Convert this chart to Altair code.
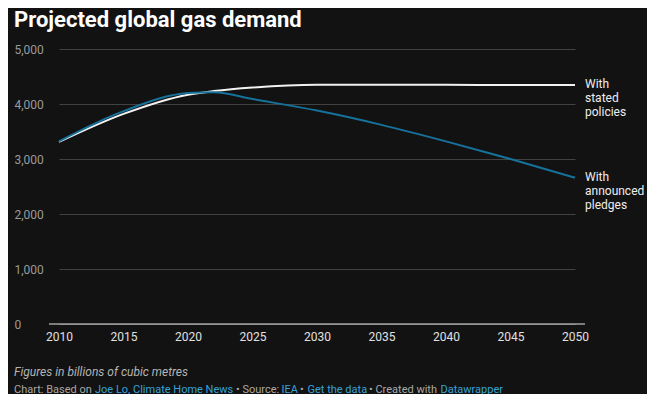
import altair as alt
import pandas as pd

years = [2010, 2015, 2020, 2022, 2025, 2030, 2035, 2040, 2045, 2050]
stated = [3310, 3820, 4170, 4235, 4300, 4350, 4350, 4350, 4345, 4345]
pledges = [3320, 3870, 4200, 4215, 4090, 3880, 3620, 3320, 3000, 2660]

series_names = ["With stated policies", "With announced pledges"]
series_labels = ["With\nstated\npolicies", "With\nannounced\npledges"]
series_colors = ["#f2f2f2", "#16719b"]

x_ticks = [2010, 2015, 2020, 2025, 2030, 2035, 2040, 2045, 2050]
y_ticks = [0, 1000, 2000, 3000, 4000, 5000]

title_text = "Projected global gas demand"
note_text = "Figures in billions of cubic metres"
footer_parts = ["Chart: Based on", "Joe Lo, Climate Home News", "\u2022 Source:", "IEA",
                "\u2022", "Get the data", "\u2022 Created with", "Datawrapper"]
footer_is_link = [False, True, False, True, False, True, False, True]
footer_x = [-35, 46, 187, 232.5, 251, 258.5, 320, 391.5]

rows = []
for y, a, b in zip(years, stated, pledges):
    rows.append({"year": y, "value": a, "series": series_names[0]})
    rows.append({"year": y, "value": b, "series": series_names[1]})
df = pd.DataFrame(rows)

label_df = pd.DataFrame({
    "year": [years[-1], years[-1]],
    "value": [stated[-1], pledges[-1]],
    "label": series_labels,
})

W, H = 536, 275

xscale = alt.Scale(domain=[2010, 2050], range=[10, W - 10], nice=False, zero=False)
yscale = alt.Scale(domain=[0, 5000], nice=False)

base = alt.Chart(df)

lines = base.mark_line(strokeWidth=2, interpolate="monotone").encode(
    x=alt.X("year:Q", scale=xscale,
            axis=alt.Axis(values=x_ticks, format="d", title=None, grid=False, domain=False,
                          ticks=False, labelColor="#e0e0e0", labelFontSize=12,
                          labelPadding=7, labelFont="Roboto", labelFlush=False)),
    y=alt.Y("value:Q", scale=yscale,
            axis=alt.Axis(values=y_ticks, format=",.0f", title=None, grid=True, gridColor="#424242",
                          gridWidth=1, domain=False, ticks=False, labelAlign="left",
                          labelPadding=35, labelColor="#9a9a9a", labelFontSize=12,
                          labelFont="Roboto", labelBaseline="middle")),
    color=alt.Color("series:N", scale=alt.Scale(domain=series_names[::-1], range=series_colors[::-1]),
                    legend=None),
    order=alt.Order("series:N"),
)

zero = alt.Chart(pd.DataFrame({"v": [0]})).mark_rule(color="#e6e6e6", strokeWidth=1.2).encode(
    y=alt.Y("v:Q", scale=yscale)
)

labels = alt.Chart(label_df).mark_text(
    align="left", baseline="top", dx=10, dy=-6, fontSize=12, color="#eeeeee",
    lineBreak="\n", lineHeight=14, font="Roboto"
).encode(
    x=alt.X("year:Q", scale=xscale),
    y=alt.Y("value:Q", scale=yscale),
    text="label:N",
)

title = alt.Chart(pd.DataFrame({"t": [title_text]})).mark_text(
    align="left", baseline="alphabetic", fontSize=22, fontWeight="bold", color="#ffffff",
    font="Roboto"
).encode(x=alt.value(-35), y=alt.value(-22), text="t:N")

note = alt.Chart(pd.DataFrame({"t": [note_text]})).mark_text(
    align="left", baseline="middle", fontSize=12, fontStyle="italic", color="#b5b5b5",
    font="Roboto"
).encode(x=alt.value(-35), y=alt.value(322.5), text="t:N")

footer_df = pd.DataFrame({
    "t": footer_parts,
    "x": footer_x,
    "c": ["#36a2d8" if l else "#a8a8a8" for l in footer_is_link],
})
footer = alt.Chart(footer_df).mark_text(
    align="left", baseline="middle", fontSize=11, font="Roboto"
).encode(
    x=alt.X("x:Q", scale=None),
    y=alt.value(340.5),
    text="t:N",
    color=alt.Color("c:N", scale=None),
)

chart = alt.layer(zero, lines, labels, title, note, footer).properties(
    width=W, height=H,
    autosize=alt.AutoSizeParams(type="none"),
    padding={"left": 41, "top": 41, "right": 62, "bottom": 70},
    background="#121212",
).configure_view(stroke=None).resolve_scale(color="independent")

chart.save("out.html", embed_options={"renderer": "svg", "actions": False})
